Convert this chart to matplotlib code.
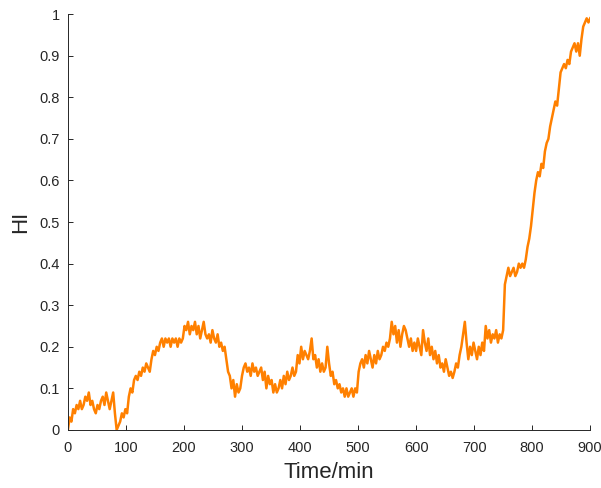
import numpy as np
import matplotlib
matplotlib.use('Agg')
import matplotlib.pyplot as plt

plt.rcParams['font.family'] = ['Liberation Sans', 'DejaVu Sans']

# health indicator sampled every 3 min, 0..900
step_min = 3
hi_values = [
    0.00, 0.03, 0.02, 0.05, 0.04, 0.06, 0.05, 0.07, 0.05, 0.06,
    0.08, 0.07, 0.09, 0.06, 0.07, 0.05, 0.04, 0.06, 0.05, 0.07,
    0.08, 0.06, 0.09, 0.07, 0.05, 0.07, 0.09, 0.04, 0.00, 0.01,
    0.02, 0.04, 0.03, 0.05, 0.04, 0.08, 0.10, 0.09, 0.12, 0.13,
    0.12, 0.14, 0.13, 0.15, 0.14, 0.16, 0.15, 0.14, 0.17, 0.19,
    0.18, 0.20, 0.19, 0.21, 0.22, 0.20, 0.22, 0.21, 0.22, 0.20,
    0.22, 0.21, 0.22, 0.20, 0.22, 0.21, 0.22, 0.25, 0.24, 0.26,
    0.23, 0.25, 0.24, 0.26, 0.23, 0.25, 0.22, 0.24, 0.26, 0.23,
    0.22, 0.23, 0.21, 0.24, 0.22, 0.21, 0.23, 0.20, 0.21, 0.19,
    0.20, 0.17, 0.14, 0.13, 0.10, 0.12, 0.08, 0.11, 0.09, 0.10,
    0.13, 0.15, 0.16, 0.14, 0.15, 0.13, 0.16, 0.14, 0.15, 0.13,
    0.14, 0.15, 0.12, 0.14, 0.10, 0.13, 0.11, 0.12, 0.09, 0.11,
    0.09, 0.10, 0.12, 0.10, 0.13, 0.11, 0.14, 0.12, 0.13, 0.15,
    0.13, 0.14, 0.18, 0.16, 0.20, 0.17, 0.19, 0.18, 0.17, 0.19,
    0.22, 0.17, 0.18, 0.15, 0.17, 0.14, 0.16, 0.14, 0.15, 0.20,
    0.16, 0.13, 0.14, 0.11, 0.12, 0.10, 0.11, 0.09, 0.10, 0.08,
    0.10, 0.08, 0.09, 0.10, 0.08, 0.10, 0.09, 0.14, 0.16, 0.17,
    0.15, 0.18, 0.16, 0.19, 0.17, 0.15, 0.18, 0.16, 0.19, 0.17,
    0.18, 0.20, 0.19, 0.21, 0.20, 0.22, 0.26, 0.23, 0.25, 0.21,
    0.24, 0.20, 0.23, 0.25, 0.24, 0.22, 0.20, 0.22, 0.19, 0.21,
    0.19, 0.22, 0.20, 0.18, 0.24, 0.21, 0.19, 0.22, 0.18, 0.20,
    0.17, 0.19, 0.16, 0.18, 0.15, 0.16, 0.14, 0.17, 0.15, 0.13,
    0.14, 0.125, 0.14, 0.16, 0.15, 0.18, 0.20, 0.23, 0.26, 0.21,
    0.17, 0.20, 0.18, 0.21, 0.19, 0.17, 0.20, 0.18, 0.21, 0.19,
    0.25, 0.22, 0.24, 0.21, 0.23, 0.22, 0.24, 0.21, 0.23, 0.22,
    0.24, 0.35, 0.37, 0.39, 0.37, 0.38, 0.39, 0.37, 0.38, 0.40,
    0.39, 0.40, 0.39, 0.41, 0.44, 0.46, 0.49, 0.53, 0.57, 0.60,
    0.62, 0.61, 0.64, 0.63, 0.67, 0.69, 0.70, 0.73, 0.75, 0.77,
    0.79, 0.78, 0.82, 0.86, 0.87, 0.88, 0.87, 0.89, 0.88, 0.91,
    0.92, 0.93, 0.91, 0.93, 0.90, 0.94, 0.97, 0.98, 0.99, 0.98,
    0.99,
]
time_min = np.arange(len(hi_values)) * step_min

x_ticks = [0, 100, 200, 300, 400, 500, 600, 700, 800, 900]
y_ticks = [0, 0.1, 0.2, 0.3, 0.4, 0.5, 0.6, 0.7, 0.8, 0.9, 1]
y_ticklabels = ['0', '0.1', '0.2', '0.3', '0.4', '0.5', '0.6', '0.7', '0.8', '0.9', '1']

ax_col = '#262626'

fig = plt.figure(figsize=(6.01, 4.88), dpi=100)
ax = fig.add_axes([0.113, 0.119, 0.869, 0.852])
ax.plot(time_min, hi_values, color='#FF8000', linewidth=1.8)

ax.set_xlim(0, 900)
ax.set_ylim(0, 1)
ax.set_xticks(x_ticks)
ax.set_yticks(y_ticks)
ax.set_yticklabels(y_ticklabels)

for s in ['top', 'right']:
    ax.spines[s].set_visible(False)
for s in ['left', 'bottom']:
    ax.spines[s].set_color(ax_col)
    ax.spines[s].set_linewidth(0.7)

ax.tick_params(direction='in', length=3.6, width=0.7, colors=ax_col,
               labelsize=10.5)
ax.tick_params(axis='x', pad=8)
ax.tick_params(axis='y', pad=6)
ax.set_xlabel('Time/min', fontsize=16, color=ax_col, labelpad=5)
ax.set_ylabel('HI', fontsize=16, color=ax_col, labelpad=6)

fig.savefig('out.png', dpi=100)
